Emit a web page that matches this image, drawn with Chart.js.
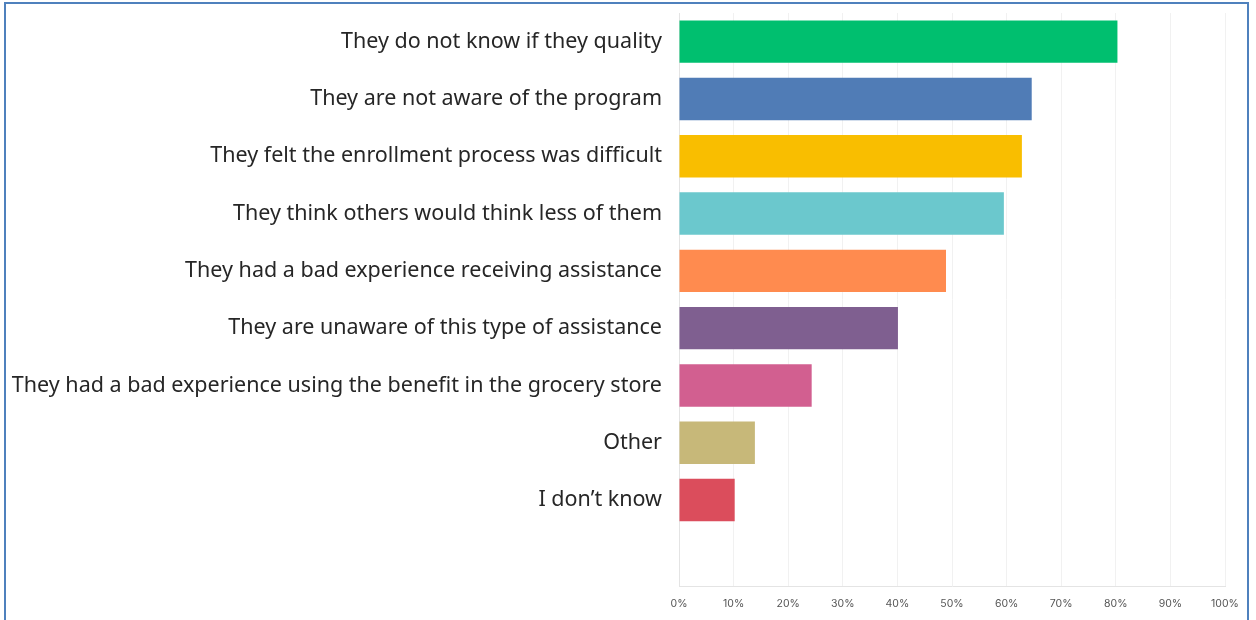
<!DOCTYPE html>
<html>
<head>
<meta charset="utf-8">
<script src="https://cdn.jsdelivr.net/npm/chart.js@4.4.1/dist/chart.umd.min.js"></script>
<style>
  html, body { margin: 0; padding: 0; background: #fff; }
  #wrap { position: relative; width: 1256px; height: 620px; overflow: hidden; }
  #frame {
    position: absolute; left: 4px; top: 2px; width: 1245px; height: 640px;
    border: 2px solid #4f81bd; box-sizing: border-box; pointer-events: none;
  }
  canvas { position: absolute; left: 0; top: 0; }
</style>
</head>
<body>
<div id="wrap">
  <canvas id="chart" width="1256" height="620"></canvas>
  <div id="frame"></div>
</div>
<script>
// answer options, top to bottom (last slot left empty)
const reasons = [
  "They do not know if they quality",
  "They are not aware of the program",
  "They felt the enrollment process was difficult",
  "They think others would think less of them",
  "They had a bad experience receiving assistance",
  "They are unaware of this type of assistance",
  "They had a bad experience using the benefit in the grocery store",
  "Other",
  "I don\u2019t know",
  ""
];

// share of respondents, in percent
const shares = [80.3, 64.6, 62.8, 59.5, 48.9, 40.1, 24.3, 13.9, 10.2, null];

const barColors = [
  "#00bf6f", "#507cb6", "#f9be00", "#6bc8cd", "#ff8b4f",
  "#7f5f90", "#d25f90", "#c7b879", "#db4d5c", "#ffffff"
];

const percentTicks = [0, 10, 20, 30, 40, 50, 60, 70, 80, 90, 100];

const graphRef = document.getElementById("chart");

const chart = new Chart(graphRef, {
  type: "bar",
  data: {
    labels: reasons,
    datasets: [{
      data: shares,
      backgroundColor: barColors,
      borderWidth: 0,
      barPercentage: 0.74,
      categoryPercentage: 1.0
    }]
  },
  options: {
    indexAxis: "y",
    responsive: false,
    animation: false,
    layout: { padding: { top: 13, right: 31, bottom: 0, left: 0 } },
    plugins: {
      legend: { display: false },
      tooltip: { enabled: false }
    },
    scales: {
      x: {
        min: 0,
        max: 100,
        afterBuildTicks: (scale) => {
          scale.ticks = percentTicks.map(v => ({ value: v }));
        },
        afterFit: (scale) => {
          scale.height = 34;
          scale.paddingLeft = 0;
          scale.paddingRight = 0;
        },
        grid: { color: "#f1f1f1", drawTicks: false },
        border: { color: "#e4e4e4" },
        ticks: {
          padding: 12,
          color: "#555",
          font: { family: "Inter", size: 10.5 },
          callback: (v) => v + "%"
        }
      },
      y: {
        // keep the label column fixed and drop the half-label padding
        afterFit: (scale) => {
          scale.width = 679;
          scale.paddingTop = 0;
          scale.paddingBottom = 0;
        },
        grid: { display: false, drawTicks: false },
        border: { color: "#e4e4e4" },
        ticks: {
          padding: 17,
          color: "#262626",
          font: { family: "Noto Sans", size: 21.5 }
        }
      }
    }
  }
});
</script>
</body>
</html>
